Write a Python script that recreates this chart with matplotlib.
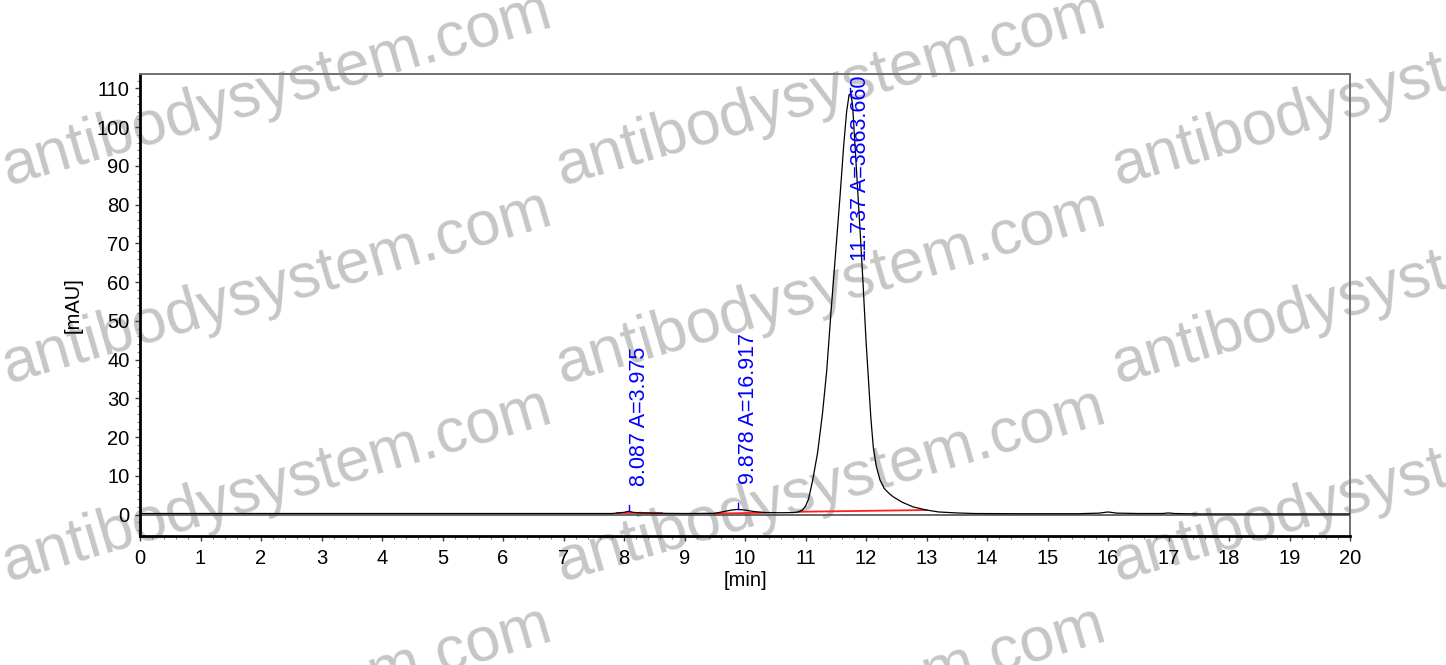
import matplotlib
matplotlib.use("Agg")
import matplotlib.pyplot as plt
from matplotlib.ticker import MultipleLocator

plt.rcParams['font.family'] = ['Liberation Sans', 'DejaVu Sans']

# ---- data ----
time_min = [0.0, 2.0, 4.0, 6.0, 7.80, 7.90, 8.00, 8.08, 8.15, 8.30, 8.60, 9.00,
            9.50, 9.65, 9.78, 9.88, 10.00, 10.15, 10.33, 10.60, 10.80, 10.88,
            10.95, 11.00, 11.05, 11.12, 11.20, 11.28, 11.35, 11.42, 11.50, 11.57,
            11.63, 11.68, 11.72, 11.75, 11.78, 11.80, 11.85, 11.90, 11.95, 12.00,
            12.04, 12.08, 12.12, 12.17, 12.23, 12.30, 12.38, 12.45, 12.60, 12.78,
            13.00, 13.20, 13.50, 13.80, 14.50, 15.50, 15.85, 16.00, 16.15, 16.50,
            16.90, 17.00, 17.10, 17.50, 18.00, 19.00, 20.00]
signal_mau = [0.3, 0.3, 0.3, 0.3, 0.3, 0.45, 0.6, 0.9, 0.6, 0.45, 0.35, 0.3,
              0.35, 0.8, 1.2, 1.35, 1.2, 0.8, 0.55, 0.5, 0.55, 0.7,
              1.2, 2.2, 4.0, 9.0, 16.0, 26.0, 37.0, 52.0, 68.0, 82.0,
              95.0, 104.0, 108.3, 108.5, 105.5, 100.0, 87.0, 74.0, 60.0, 45.0,
              35.0, 25.0, 17.5, 12.5, 9.0, 6.8, 5.5, 4.6, 3.2, 2.0,
              1.2, 0.7, 0.45, 0.3, 0.25, 0.25, 0.4, 0.7, 0.4, 0.3,
              0.3, 0.45, 0.3, 0.2, 0.2, 0.2, 0.2]

peak_times = [8.087, 9.878, 11.737]
peak_apex = [0.9, 1.35, 108.5]
peak_areas = [3.975, 16.917, 3863.660]

baseline_start = [7.88, 9.50, 10.88]
baseline_end = [8.63, 10.33, 13.00]
baseline_start_val = [0.35, 0.30, 0.75]
baseline_end_val = [0.35, 0.50, 1.20]

xticks = list(range(0, 21))
yticks = [0, 10, 20, 30, 40, 50, 60, 70, 80, 90, 100, 110]

watermark = "antibodysystem.com"

# ---- figure ----
fig = plt.figure(figsize=(14.46, 6.65), dpi=100)
ax = fig.add_axes([140/1446, 1-536/665, (1350-140)/1446, (536-74)/665])
ax.set_facecolor('none')

# watermarks (behind everything)
for col_x in [8, 562, 1118]:
    for row_y in [186, 384, 582, 800]:
        fig.text(col_x/1446, 1-row_y/665, watermark, fontsize=45,
                 color='#c6c6c6', rotation=16.3, rotation_mode='anchor',
                 ha='left', va='baseline', zorder=-5)

ax.set_xlim(0, 20)
ax.set_ylim(-5.5, 113.7)

ax.axhline(0, color='#505050', lw=1.2, zorder=1)
ax.plot(time_min, signal_mau, color='black', lw=0.9, zorder=3)

for xs, xe, ys, ye in zip(baseline_start, baseline_end, baseline_start_val, baseline_end_val):
    ax.plot([xs, xe], [ys, ye], color='#ff2020', lw=1.3, zorder=2)

for t, a, area in zip(peak_times, peak_apex, peak_areas):
    ax.plot([t, t], [a, a + 1.6], color='blue', lw=1.0, zorder=4)
    label = f"{t:.3f} A={area:.3f}"
    if a > 50:
        ax.text(t, 113.4, label, rotation=90, color='blue', fontsize=15.5,
                ha='left', va='top', zorder=5)
    else:
        ax.text(t, a + 6.5, label, rotation=90, color='blue', fontsize=15.5,
                ha='left', va='bottom', zorder=5)

ax.set_xticks(xticks)
ax.set_yticks(yticks)
ax.xaxis.set_minor_locator(MultipleLocator(0.2))
ax.yaxis.set_minor_locator(MultipleLocator(2))
ax.tick_params(axis='both', which='major', labelsize=14.5, length=3.5,
               width=1.0, color='#404040', direction='out')
ax.tick_params(axis='both', which='minor', length=2, width=0.8,
               color='#808080', direction='out')
ax.tick_params(axis='y', pad=4)
ax.tick_params(axis='x', pad=6)

for side in ['left', 'bottom']:
    ax.spines[side].set_color('black')
    ax.spines[side].set_linewidth(2.0)
for side in ['top', 'right']:
    ax.spines[side].set_color('#707070')
    ax.spines[side].set_linewidth(1.4)

ax.set_xlabel('[min]', fontsize=14.5, labelpad=2)
ax.set_ylabel('[mAU]', fontsize=14.5, labelpad=10)

fig.savefig('out.png', dpi=100)
